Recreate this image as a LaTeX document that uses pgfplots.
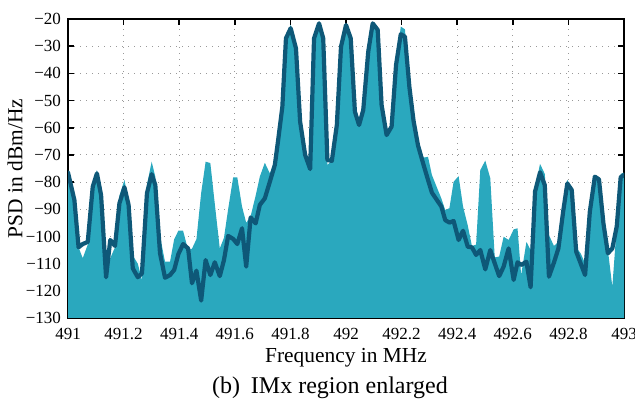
\documentclass[border=0pt]{standalone}
\usepackage{fontspec}
\setmainfont{Liberation Serif}
\usepackage{pgfplots}
\usepackage{pgfplotstable}
\pgfplotsset{compat=1.18}
\definecolor{fillc}{RGB}{42,168,190}
\definecolor{linec}{RGB}{14,88,120}
\pgfplotsset{layers/mylayers/.define layer set={axis background,axis grid,pre main,main,axis ticks,axis lines,axis tick labels,axis descriptions,axis foreground}{}}

\pgfplotstableread{
f v
491.000 -76.5
491.023 -86.6
491.038 -104
491.053 -102.8
491.071 -102
491.089 -81.7
491.104 -76.8
491.119 -84.8
491.137 -115
491.152 -101.3
491.169 -103.5
491.185 -87.8
491.203 -81.9
491.218 -88.4
491.233 -111.7
491.251 -115
491.266 -113.6
491.284 -84.1
491.301 -77.1
491.314 -81
491.331 -106.2
491.349 -115.2
491.367 -114.2
491.382 -112.3
491.397 -106.5
491.414 -102.8
491.432 -104.4
491.446 -117.2
491.462 -112.6
491.479 -123.6
491.495 -108.7
491.512 -114.2
491.528 -109.5
491.546 -114.6
491.561 -108.7
491.576 -99.8
491.594 -100.9
491.609 -102.8
491.626 -97
491.641 -111.1
491.657 -93
491.675 -95.2
491.690 -88.4
491.708 -86
491.726 -79.9
491.744 -73.7
491.756 -64.5
491.771 -52.3
491.784 -27.1
491.801 -23.4
491.820 -30.8
491.835 -57.8
491.853 -70.0
491.871 -75.2
491.885 -27.1
491.903 -21.6
491.918 -27.1
491.933 -71.9
491.949 -72.2
491.967 -59.0
491.982 -30.2
492.000 -22.2
492.017 -27.1
492.032 -54.1
492.047 -59.0
492.062 -53.5
492.080 -32.0
492.096 -21.6
492.114 -24.0
492.128 -51.6
492.146 -62.7
492.164 -59.6
492.180 -36.9
492.197 -25.6
492.212 -26.5
492.228 -45
492.243 -57.5
492.259 -66.5
492.279 -73.7
492.295 -79.2
492.309 -83.9
492.327 -86.6
492.343 -89.0
492.357 -94.0
492.372 -94.9
492.387 -94.3
492.405 -101.3
492.421 -97.9
492.438 -103.8
492.453 -104.0
492.468 -106.8
492.483 -105
492.501 -112.1
492.519 -105
492.535 -109.9
492.551 -114.6
492.567 -111.1
492.585 -104.4
492.603 -116.0
492.617 -109.5
492.630 -110.5
492.649 -109.3
492.664 -118.7
492.680 -83.5
492.698 -76.4
492.715 -81.1
492.730 -114.8
492.748 -109.6
492.764 -104.4
492.781 -90.9
492.796 -80.5
492.812 -82.9
492.828 -105.6
492.844 -109.9
492.860 -114.2
492.877 -90.9
492.895 -78.0
492.910 -79.0
492.926 -95.2
492.942 -106.2
492.958 -104.4
492.974 -96.2
492.988 -78.2
493.000 -77.4
}\linedata

\pgfplotstableread{
f v
491.000 -130
491.000 -76
491.023 -85
491.038 -104
491.053 -108
491.071 -103
491.089 -80
491.104 -75.6
491.119 -84
491.137 -114
491.152 -108
491.169 -104
491.185 -85
491.203 -79.2
491.218 -87
491.233 -107
491.251 -110
491.266 -116
491.284 -81
491.301 -72.5
491.314 -78
491.331 -100
491.349 -109.3
491.367 -109.3
491.382 -101
491.397 -97.9
491.414 -97.9
491.432 -105
491.446 -104.5
491.462 -101
491.479 -84
491.495 -72.5
491.512 -73
491.528 -88
491.546 -104.4
491.561 -100.5
491.576 -90
491.594 -78.3
491.609 -78.3
491.626 -89
491.641 -95
491.657 -92.5
491.675 -85
491.690 -78
491.708 -72.9
491.726 -76.8
491.744 -72
491.756 -64
491.771 -51
491.784 -26
491.801 -22.2
491.820 -30
491.835 -57.8
491.853 -70.0
491.871 -75.2
491.885 -27.1
491.903 -21.6
491.918 -27.1
491.933 -73.7
491.949 -72.2
491.967 -59.0
491.982 -30.2
492.000 -22.2
492.017 -27.1
492.032 -54.1
492.047 -59.0
492.062 -53.5
492.080 -32.0
492.096 -21.6
492.114 -24.0
492.128 -51.6
492.146 -62.7
492.164 -59.6
492.180 -36.9
492.197 -22.8
492.212 -23.8
492.228 -44
492.243 -56
492.259 -64.5
492.279 -71
492.295 -70.7
492.309 -77.4
492.327 -82
492.343 -86
492.357 -90.3
492.372 -89.6
492.387 -79.9
492.405 -77.8
492.421 -89
492.438 -96
492.453 -103.5
492.468 -103
492.483 -75.6
492.501 -72.1
492.519 -78.6
492.535 -107.7
492.551 -107.4
492.567 -100.1
492.585 -101.3
492.603 -97.4
492.617 -97.0
492.630 -114.2
492.649 -102
492.664 -105
492.680 -82
492.698 -73.3
492.715 -77
492.730 -99.5
492.748 -103.5
492.764 -102
492.781 -90
492.796 -79.2
492.812 -82
492.828 -104
492.844 -106.2
492.860 -109.9
492.877 -90
492.895 -77.4
492.910 -78.5
492.926 -98.8
492.942 -105
492.958 -118.5
492.974 -96
492.988 -77
493.000 -76.5
493.000 -130
}\filldata

\begin{document}
\begin{tikzpicture}
\begin{axis}[
  set layers=mylayers,
  scale only axis,
  width=278pt, height=149.5pt,
  at={(0,0)}, anchor=south west,
  xmin=491, xmax=493, ymin=-130, ymax=-20,
  xtick={491,491.2,491.4,491.6,491.8,492,492.2,492.4,492.6,492.8,493},
  xticklabels={491,491.2,491.4,491.6,491.8,492,492.2,492.4,492.6,492.8,493},
  ytick={-130,-120,-110,-100,-90,-80,-70,-60,-50,-40,-30,-20},
  yticklabels={−130,−120,−110,−100,−90,−80,−70,−60,−50,−40,−30,−20},
  tick align=inside,
  xtick pos=both, ytick pos=both,
  major tick length=3pt,
  grid=major,
  major grid style={dash pattern=on 0.6pt off 2.4pt, gray!80, line width=0.5pt},
  axis line style={line width=0.8pt},
  tick style={line width=0.8pt, black},
  ticklabel style={font=\fontsize{8.5}{10}\selectfont},
  xticklabel style={yshift=-1.5pt},
  clip=true,
]
\addplot[fill=fillc, draw=none] table[x=f,y=v] {\filldata} -- cycle;
\addplot[color=linec, line width=2.1pt, line join=round, line cap=round] table[x=f,y=v] {\linedata};
\end{axis}
\node[inner sep=0pt, font=\fontsize{10.7}{12}\selectfont] at (139pt,-20pt) {Frequency in MHz};
\node[inner sep=0pt, font=\fontsize{10.7}{12}\selectfont, rotate=90] at (-26.5pt,74.75pt) {PSD in dBm/Hz};
\node[inner sep=0pt, font=\fontsize{12}{14}\selectfont] at (131pt,-35pt) {(b)\hspace{0.45em}IMx region enlarged};
\pgfresetboundingbox
\useasboundingbox (-34pt,-40.5pt) rectangle (283.5pt,159pt);
\end{tikzpicture}
\end{document}
